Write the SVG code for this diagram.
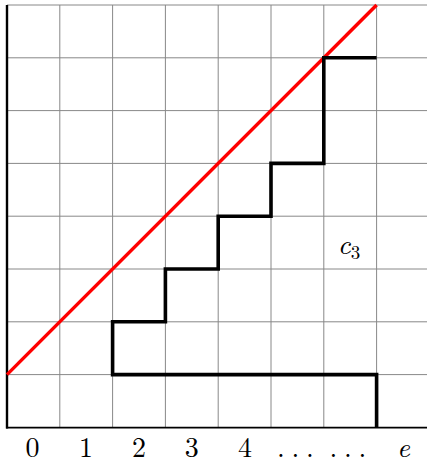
<svg xmlns="http://www.w3.org/2000/svg" width="427" height="469" viewBox="0 0 427 469">
<style>
.grid{stroke:#888;stroke-width:1;fill:none}
.axis{stroke:#000;fill:none}
.stair{stroke:#000;stroke-width:3.6;fill:none;stroke-linejoin:miter}
.diag{stroke:#ff0000;stroke-width:3.4;fill:none}
.lbl{font-family:"Latin Modern Roman","CMU Serif","Liberation Serif",serif;font-size:28px;fill:#000;text-anchor:middle}
</style>
<rect width="427" height="469" fill="#fff"/>
<g id="grid" class="grid">
<path d="M7 5H427M7 57.8H427M7 110.6H427M7 163.4H427M7 216.2H427M7 269H427M7 321.8H427M7 374.6H427"/>
<path d="M59.8 5V427.4M112.6 5V427.4M165.4 5V427.4M218.2 5V427.4M271 5V427.4M323.8 5V427.4M376.6 5V427.4"/>
</g>
<g id="axes">
<path class="axis" stroke-width="2.4" d="M7 5V428.5"/>
<path class="axis" stroke-width="1.6" d="M6 427.6H427"/>
</g>
<g id="connectors">
<path id="diagonal" class="diag" d="M7 374.6L376.6 5"/>
<path id="staircase" class="stair" d="M376.6 427.4V374.6H112.6V321.8H165.4V269H218.2V216.2H271V163.4H323.8V57.8H376.6"/>
</g>
<g id="labels">
<text class="lbl" x="32.5" y="457">0</text>
<text class="lbl" x="86" y="457">1</text>
<text class="lbl" x="139" y="457">2</text>
<text class="lbl" x="191.8" y="457">3</text>
<text class="lbl" x="245" y="457">4</text>
<text class="lbl" x="281 295.5 310" y="457">...</text>
<text class="lbl" x="333.5 348 362.5" y="457">...</text>
<text class="lbl" x="403.5" y="457" font-style="italic">e</text>
<text id="c3" class="lbl" x="349" y="254" font-style="italic">c<tspan font-size="19" font-style="normal" dy="5">3</tspan></text>
</g>
</svg>
